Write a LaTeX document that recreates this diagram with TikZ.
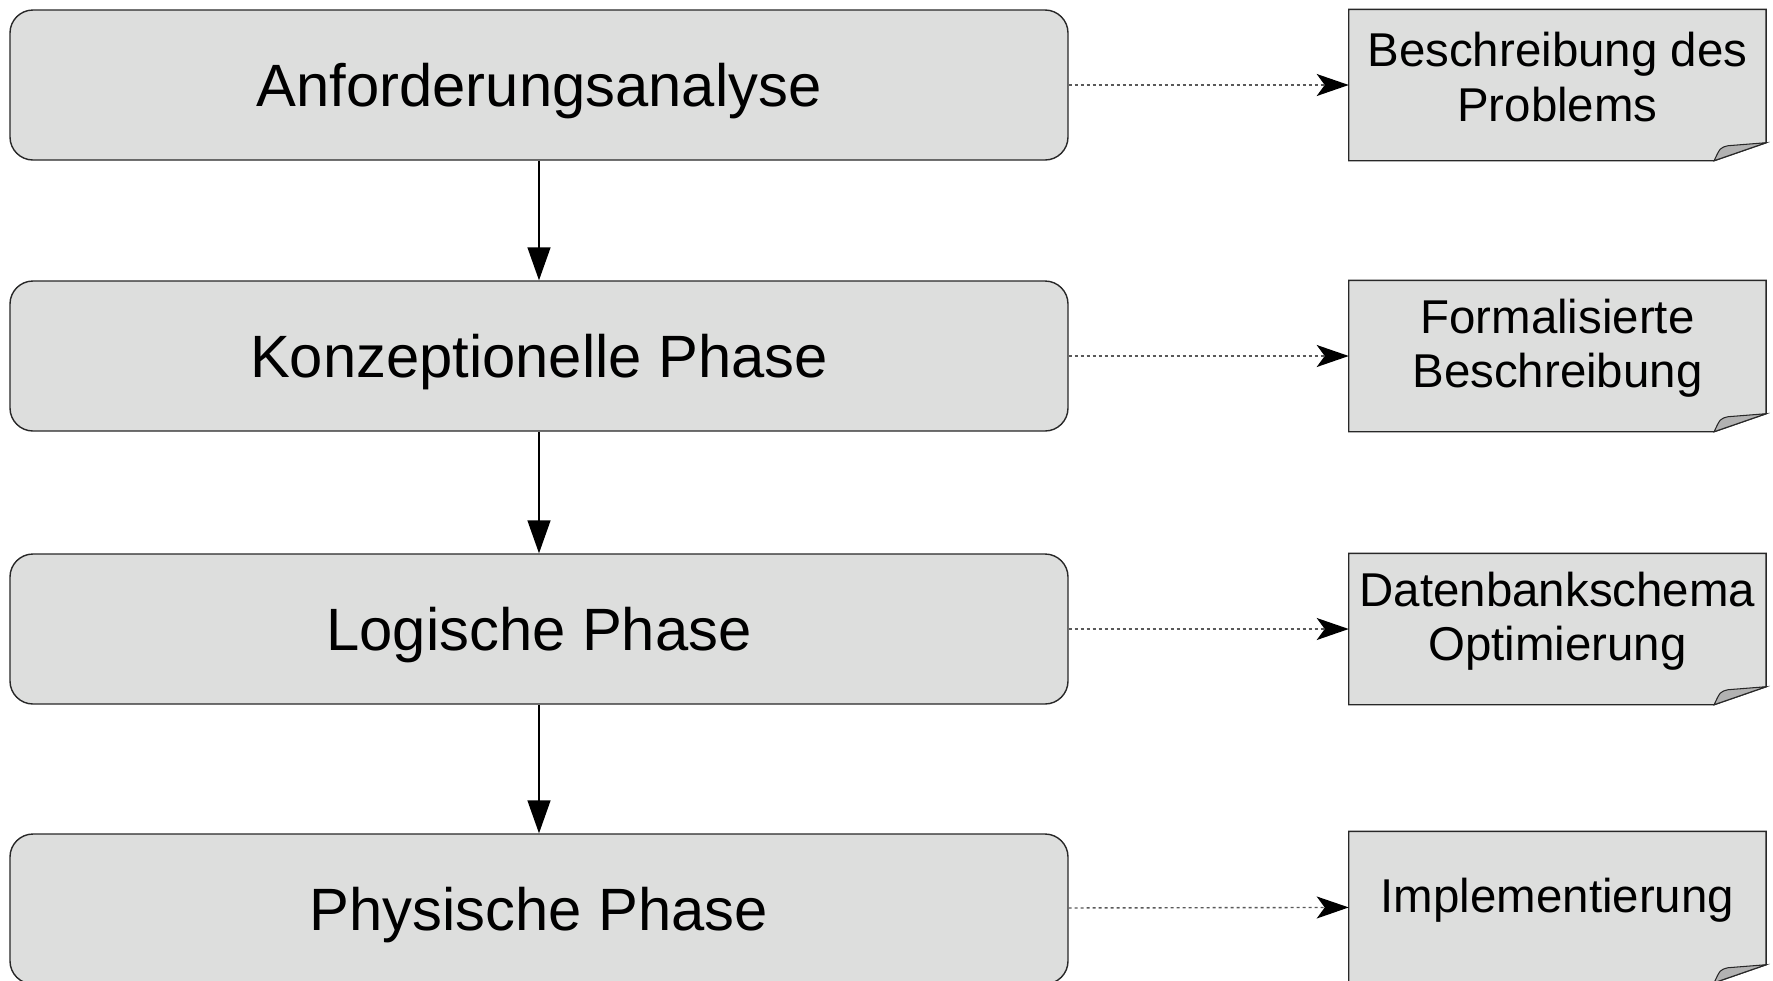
\documentclass[tikz,border=0pt]{standalone}
\usepackage{fontspec}
\setmainfont{Liberation Sans}
\usepackage{tikz}
\usetikzlibrary{positioning,arrows.meta}
\definecolor{boxgray}{RGB}{221,222,221}
\definecolor{foldgray}{RGB}{178,178,178}
\definecolor{linegray}{RGB}{40,40,40}

\tikzset{
    phase/.style={draw=linegray, fill=boxgray, rounded corners=0.23cm, text depth=0pt,
        minimum width=10.58cm, minimum height=1.5cm, font=\fontsize{17}{20}\selectfont},
    result/.style={minimum width=4.16cm, minimum height=1.5cm},
    resulttext/.style={align=center, font=\fontsize{13.5}{15.5}\selectfont},
    flow/.style={draw=black, -{Triangle[length=0.33cm,width=0.23cm]}},
    yields/.style={draw=gray!70!black, dash pattern=on 0.03cm off 0.03cm,
        -{Stealth[length=0.32cm,width=0.22cm,inset=0.08cm,black]}}
}

\begin{document}
\begin{tikzpicture}
    \useasboundingbox (0,0) rectangle (17.73,9.8);
    % phases
    \node[phase] (p1) at (5.39,8.95) {Anforderungsanalyse};
    \node[phase] (p2) at (5.39,6.24) {Konzeptionelle Phase};
    \node[phase] (p3) at (5.39,3.51) {Logische Phase};
    \node[phase] (p4) at (5.39,0.71) {Physische Phase};
    % results
    \node[result, right=2.8cm of p1] (r1) {};
    \node[result, right=2.8cm of p2] (r2) {};
    \node[result, right=2.8cm of p3] (r3) {};
    \node[result, right=2.8cm of p4, yshift=0.02cm] (r4) {};
    % paper with folded corner
    \foreach \n in {r1,r2,r3,r4} {
        \filldraw[draw=linegray, fill=boxgray] (\n.north west) -- (\n.north east)
            -- ([yshift=0.18cm]\n.south east) -- ([xshift=-0.52cm]\n.south east)
            -- (\n.south west) -- cycle;
        \filldraw[draw=linegray, fill=foldgray, line width=0.3pt]
            ([xshift=-0.52cm]\n.south east)
            .. controls ([xshift=-0.46cm,yshift=0.13cm]\n.south east) .. ([xshift=-0.38cm,yshift=0.15cm]\n.south east)
            -- ([yshift=0.18cm]\n.south east) -- cycle;
    }
    \node[resulttext] (t1) at ([yshift=0.08cm]r1) {Beschreibung des\\Problems};
    \node[resulttext] (t2) at ([yshift=0.08cm]r2) {Formalisierte\\Beschreibung};
    \node[resulttext] (t3) at ([yshift=0.08cm]r3) {Datenbankschema\\Optimierung};
    \node[resulttext] (t4) at ([yshift=0.07cm]r4) {Implementierung};
    % arrows
    \draw[flow] (p1) -- (p2);
    \draw[flow] (p2) -- (p3);
    \draw[flow] (p3) -- (p4);
    \draw[yields] (p1) -- (r1);
    \draw[yields] (p2) -- (r2);
    \draw[yields] (p3) -- (r3);
    \draw[yields] (p4) -- (r4);
\end{tikzpicture}
\end{document}
